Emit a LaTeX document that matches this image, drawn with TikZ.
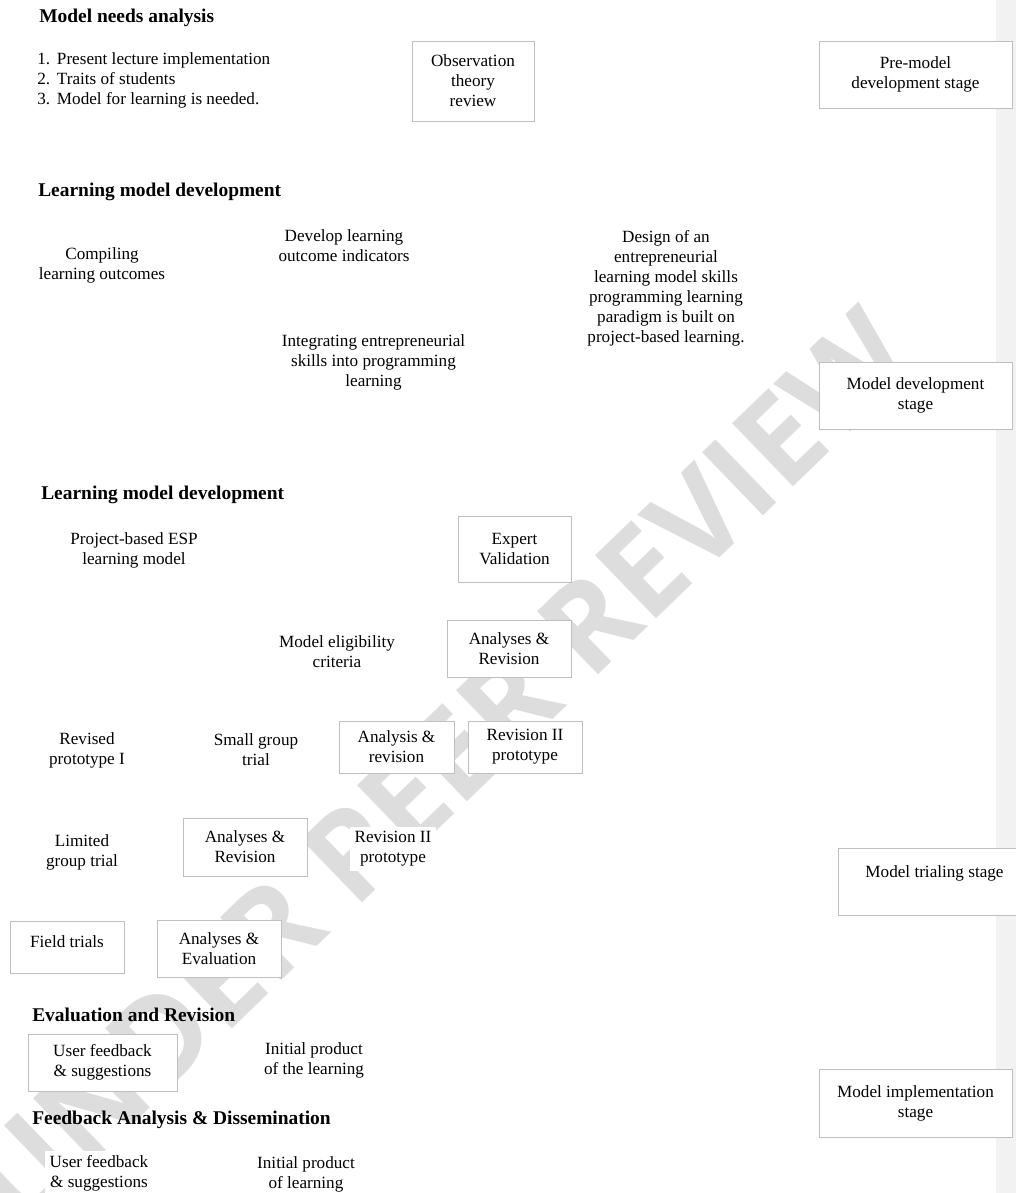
\documentclass[tikz,border=0pt]{standalone}
\usepackage{fontspec}
\setmainfont{Liberation Serif}
\newfontfamily\wmfont{Open Sans}
\usepackage{xcolor}
\definecolor{boxgray}{HTML}{BFBFBF}
\definecolor{bandgray}{HTML}{F2F2F2}
\definecolor{wmgray}{HTML}{DDDDDD}
\tikzset{
  box/.style={draw=boxgray, fill=white, line width=0.7pt, align=center, inner sep=0pt},
  txt/.style={fill=white, align=center, inner sep=3pt},
  head/.style={anchor=west, inner sep=0pt, font=\fontsize{13.6}{16}\selectfont\bfseries},
  boxsize/.style 2 args={minimum width=#1*0.7pt, minimum height=#2*0.7pt},
}

\begin{document}
\begin{tikzpicture}[x=0.7pt, y=-0.7pt, font=\fontsize{12}{14}\selectfont]
  \useasboundingbox (0,0) rectangle (1016,1193);
  \fill[bandgray] (996,0) rectangle (1016,1193);
  % watermark
  \node[rotate=44, text=wmgray, font=\wmfont\bfseries\fontsize{86}{86}\selectfont] (wm) at (440,768) {UNDER PEER REVIEW};

  % stage boxes on the right
  \node[box, boxsize={193}{67}] (premodel) at (915.5,74.5) {Pre-model\\development stage};
  \node[box, boxsize={193}{67}] (moddev) at (915.5,395.5) {Model development\\stage};
  \node[box, boxsize={193}{67}] (trialing) at (934.5,881.5) {Model trialing stage\\\mbox{}};
  \node[box, boxsize={193}{68}] (implement) at (915.5,1103) {Model implementation\\stage};

  % model needs analysis
  \node[head] (needs) at (39,18) {Model needs analysis};
  \node[anchor=west, align=left, inner sep=0pt] (needlist) at (37,80)
    {1.\hspace{0.4em}Present lecture implementation\\2.\hspace{0.4em}Traits of students\\3.\hspace{0.4em}Model for learning is needed.};
  \node[box, boxsize={122}{80}] (observe) at (473,81) {Observation\\theory\\review};

  % learning model development
  \node[head] (develop) at (38,192) {Learning model development};
  \node[txt] (compile) at (102,265.5) {Compiling\\learning outcomes};
  \node[txt] (indicators) at (344,246) {Develop learning\\outcome indicators};
  \node[txt] (integrate) at (373.5,362) {Integrating entrepreneurial\\skills into programming\\learning};
  \node[txt] (design) at (666,288.5) {Design of an\\entrepreneurial\\learning model skills\\programming learning\\paradigm is built on\\project-based learning.};

  % learning model development (trials)
  \node[head] (trials) at (41,495) {Learning model development};
  \node[txt] (espmodel) at (134,550) {Project-based ESP\\learning model};
  \node[box, boxsize={113}{66}] (expert) at (514.5,549) {Expert\\Validation};
  \node[txt] (eligible) at (337,652) {Model eligibility\\criteria};
  \node[box, boxsize={124}{57}] (revise1) at (509,648.5) {Analyses \&\\Revision};
  \node[txt] (protoI) at (87,750) {Revised\\prototype I};
  \node[txt] (smallgrp) at (256,750) {Small group\\trial};
  \node[box, boxsize={115}{52}] (analysis) at (396.5,747) {Analysis \&\\revision};
  \node[box, boxsize={114}{52}] (protoII) at (525,747) {Revision II\\prototype};
  \node[txt] (limited) at (82,852) {Limited\\group trial};
  \node[box, boxsize={124}{58}] (revise2) at (245,847) {Analyses \&\\Revision};
  \node[txt] (protoIIb) at (393,849) {Revision II\\prototype};
  \node[box, boxsize={114}{52}] (field) at (67,947) {Field trials\\[-6pt]\mbox{}};
  \node[box, boxsize={124}{57}] (evaluate) at (219,948.5) {Analyses \&\\Evaluation};

  % evaluation and revision
  \node[head] (evalrev) at (32,1015) {Evaluation and Revision};
  \node[box, boxsize={149}{57}] (feedback) at (102.5,1062.5) {User feedback\\\& suggestions};
  \node[txt] (product) at (314,1060) {Initial product\\of the learning};

  % feedback analysis and dissemination
  \node[head] (dissem) at (32,1120) {Feedback Analysis \& Dissemination};
  \node[txt] (feedback2) at (99,1173) {User feedback\\\& suggestions};
  \node[txt] (product2) at (306,1174) {Initial product\\of learning};
\end{tikzpicture}
\end{document}
